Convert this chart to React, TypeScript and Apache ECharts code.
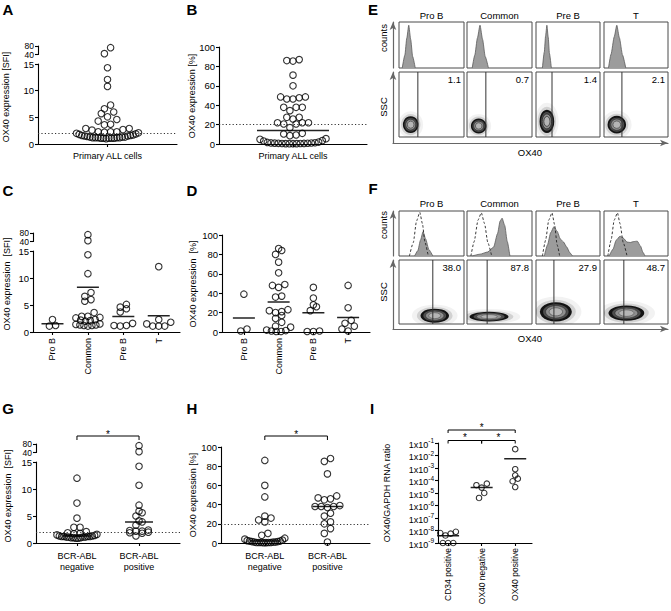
import React, { useEffect, useRef } from "react";
import * as echarts from "echarts";

// ---------------- data ----------------
const primaryCat = ["Primary ALL cells"];
const subtypeCats = ["Pro B", "Common", "Pre B", "T"];
const bcrCats = ["BCR-ABL\nnegative", "BCR-ABL\npositive"];
const rnaCats = ["CD34 positive", "OX40 negative", "OX40 positive"];
const brokenTicks = [40, 80];

// A: OX40 SFI, all primary ALL samples
const sfiAll = [72, 44, 14.3, 12.1, 10.8, 7.3, 6.6, 6.0, 5.7, 5.1, 4.6, 4.3, 3.7, 3.6, 2.9, 2.9, 2.7, 2.6, 2.3, 2.3, 2.3, 2.2, 2.1, 2.0, 1.9, 1.8, 1.7, 1.6, 1.6, 1.5, 1.5, 1.4, 1.3, 1.3, 1.3, 1.2, 1.2, 1.2, 1.2, 1.2, 1.1, 1.1, 1.1, 1.1, 1.1, 1.0];
// B: OX40 % positive, all primary ALL samples
const pctAll = [87, 86, 85.5, 71, 60, 48.5, 48.5, 47.7, 46.4, 46.4, 37.8, 37.8, 37.8, 34.4, 27.5, 27.5, 25.8, 21.9, 21.9, 21.9, 20.6, 20.6, 16.8, 11, 10.3, 9.3, 8.6, 5.5, 4.8, 3.5, 3.1, 2.0, 1.6, 1.3, 1.1, 1.0, 0.9, 0.8, 0.7, 0.6, 0.5, 0.5, 0.4, 0.4, 0.3, 0.3];

// C: SFI by subtype
const sfiProB = [2.3, 1.1, 1.2];
const sfiCommon = [72, 44, 14.3, 10.8, 7.3, 6.6, 6.0, 5.7, 3.6, 2.9, 2.7, 2.6, 2.9, 2.3, 2.2, 2.1, 2.0, 1.5, 1.4, 1.3, 1.2, 1.2, 1.3, 1.1];
const sfiPreB = [5.1, 4.6, 4.3, 3.7, 1.6, 1.2, 1.1, 1.2];
const sfiT = [12.1, 2.3, 1.8, 1.5, 1.1, 1.1, 1.1];

// D: % by subtype
const pctProB = [39, 3, 1];
const pctCommon = [86, 84, 80, 72, 61, 49, 48, 46, 37, 36, 23, 22, 21, 20, 17, 14, 10, 6, 5, 2, 1.5, 1, 0.5, 0.5];
const pctPreB = [46, 35, 28, 26, 22, 1, 0.5, 0.5];
const pctT = [48, 25, 12, 9, 6, 3, 1];

// G: SFI by BCR-ABL status
const sfiBcrNeg = [12, 7.4, 4.6, 2.9, 2.9, 2.1, 1.9, 1.8, 1.7, 1.6, 1.5, 1.4, 1.3, 1.3, 1.2, 1.2, 1.2, 1.2, 1.1, 1.1, 1.1, 1.1, 1.0, 1.0, 1.0, 0.9, 0.9];
const sfiBcrPos = [72, 44, 14.2, 10.7, 7.0, 5.9, 5.6, 5.0, 4.1, 3.9, 3.3, 2.4, 2.3, 2.2, 2.2, 2.0, 1.9, 1.8, 1.3];

// H: % by BCR-ABL status
const pctBcrNeg = [86, 60, 48, 28, 26, 24, 22, 10, 8, 5, 4, 3, 2.5, 2, 2, 1.5, 1.5, 1, 1, 1, 0.5, 0.5, 0.5, 0.5, 0.5, 0.3, 0.3];
const pctBcrPos = [88, 85, 72, 49, 47, 46, 45, 39, 38, 38, 38, 37, 31, 28, 22, 20, 15, 10, 1];

// I: OX40/GAPDH RNA ratio
const rnaCD34 = [7.9e-9, 6.3e-9, 5.6e-9, 4.0e-9, 1e-9, 1e-9, 1e-9];
const rnaOX40Neg = [5.6e-5, 4.2e-5, 2.7e-5, 1.0e-5, 4.0e-6];
const rnaOX40Pos = [3.2e-2, 8.0e-4, 2.6e-4, 1.4e-4, 8.7e-5, 3.0e-5];

// E / F: flow cytometry
const flowCols = ["Pro B", "Common", "Pre B", "T"];
const isoPct = [1.1, 0.7, 1.4, 2.1];
const ox40Pct = [38.0, 87.8, 27.9, 48.7];
const isoGate = [29, 29, 25, 28];
const ox40Gate = [52, 31, 28, 31];
const isoHist = [
  [[5, 0], [9, 28], [12, 65], [15, 93], [18, 62], [21, 25], [25, 0]],
  [[8, 0], [12, 28], [16, 65], [20, 93], [24, 62], [28, 25], [33, 0]],
  [[10, 0], [13, 35], [15, 70], [17, 93], [19, 68], [21, 32], [24, 0]],
  [[7, 0], [11, 30], [16, 68], [20, 93], [24, 66], [29, 28], [34, 0]],
];
const ox40Hist = [
  [[24, 0], [29, 12], [33, 35], [37, 54], [41, 38], [46, 14], [52, 0]],
  [[8, 0], [20, 4], [32, 9], [41, 20], [47, 50], [51, 78], [54, 84], [58, 68], [62, 32], [66, 0]],
  [[13, 0], [18, 25], [23, 52], [28, 65], [33, 55], [38, 38], [43, 31], [48, 20], [53, 7], [57, 0]],
  [[8, 0], [14, 15], [19, 35], [25, 44], [30, 40], [36, 31], [41, 30], [46, 32], [52, 33], [57, 22], [61, 8], [64, 0]],
];
const ctrlHist = [
  [[16, 0], [22, 30], [27, 78], [32, 97], [36, 72], [40, 30], [45, 0]],
  [[6, 0], [11, 32], [17, 80], [22, 96], [27, 72], [32, 30], [38, 0]],
  [[10, 0], [15, 35], [20, 80], [25, 96], [29, 70], [33, 25], [37, 0]],
  [[6, 0], [11, 35], [16, 80], [21, 96], [25, 72], [30, 30], [36, 0]],
];
// contour blobs: [centerX, centerY, radiusX, radiusY] in % of plot
const isoBlob = [[18, 19, 12, 13], [18, 17, 12, 11.5], [17, 24, 11.5, 18], [20, 19, 14.5, 13.5]];
const ox40Blob = [[55, 13, 22, 11], [34, 11.5, 30, 7.5], [31, 19, 25, 15], [35, 17, 28, 12]];

// ---------------- helpers ----------------
const FONT = '"Liberation Sans", Arial, Helvetica, sans-serif';
const INK = "#000";

function mean(a: number[]) {
  return a.reduce((s, v) => s + v, 0) / a.length;
}
function median(a: number[]) {
  const s = [...a].sort((x, y) => x - y);
  const n = s.length;
  return n % 2 ? s[(n - 1) / 2] : (s[n / 2 - 1] + s[n / 2]) / 2;
}
function swarm(vals: number[], pys: number[], rowH: number, step: number, maxW: number) {
  const n = vals.length;
  const order = vals.map((_, i) => i).sort((a, b) => vals[a] - vals[b]);
  const out = new Array(n).fill(0);
  let k = 0;
  while (k < n) {
    const y0 = pys[order[k]];
    const bin: number[] = [];
    while (k < n && y0 - pys[order[k]] < rowH) {
      bin.push(order[k]);
      k++;
    }
    const m = bin.length;
    const s = m > 1 ? Math.min(step, maxW / (m - 1)) : 0;
    const pos = Array.from({ length: m }, (_, j) => (j - (m - 1) / 2) * s).sort(
      (a, b) => Math.abs(a) - Math.abs(b) || a - b
    );
    bin.forEach((idx, j) => (out[idx] = pos[j]));
  }
  return out;
}

function buildOption() {
  const grids: any[] = [];
  const xAxes: any[] = [];
  const yAxes: any[] = [];
  const series: any[] = [];
  const gfx: any[] = [];
  const addGrid = (r: any, xa: any, ya: any) => {
    const i = grids.length;
    grids.push({ containLabel: false, ...r });
    xAxes.push({ gridIndex: i, ...xa });
    yAxes.push({ gridIndex: i, ...ya });
    return i;
  };
  const axLine = { show: true, onZero: false, lineStyle: { color: INK, width: 1.1 } };
  const axTick = { show: true, length: 3, lineStyle: { color: INK, width: 1.1 } };
  const lab = {
    color: INK, fontSize: 9.5, fontFamily: FONT,
    hideOverlap: false, showMinLabel: true, showMaxLabel: true,
  };
  const text = (x: number, y: number, t: string, size = 9.5, o: any = {}) =>
    gfx.push({
      type: "text",
      x,
      y,
      rotation: o.rot || 0,
      silent: true,
      z: 100,
      style: {
        text: t,
        fill: INK,
        fontSize: size,
        fontFamily: FONT,
        fontWeight: o.bold ? "bold" : "normal",
        align: o.align || "center",
        verticalAlign: o.va || "middle",
      },
    });
  const bracket = (x1: number, x2: number, y: number, drop = 4) =>
    gfx.push({
      type: "polyline",
      silent: true,
      z: 100,
      shape: { points: [[x1, y + drop], [x1, y], [x2, y], [x2, y + drop]] },
      style: { stroke: INK, lineWidth: 1, fill: null },
    });

  const dotPanel = (s: any) => {
    const pxX = s.width / (s.xMax - s.xMin);
    const yPx = (v: number) =>
      s.upper && v > s.yMax
        ? s.upper.top + s.upper.height * (1 - (v - s.upper.min) / (s.upper.max - s.upper.min))
        : s.top + s.height * (1 - (v - s.yMin) / (s.yMax - s.yMin));
    const ticks = s.cats.map((_: any, i: number) => i);
    const gi = addGrid(
      { left: s.left, top: s.top, width: s.width, height: s.height },
      {
        type: "value",
        min: s.xMin,
        max: s.xMax,
        axisLine: axLine,
        axisTick: { ...axTick, customValues: ticks },
        axisLabel: {
          ...lab,
          fontSize: s.catSize || 9,
          customValues: ticks,
          formatter: (v: number) => (Math.abs(v - Math.round(v)) < 1e-6 ? s.cats[Math.round(v)] ?? "" : ""),
          rotate: s.rotate || 0,
          margin: s.labelMargin ?? 6,
          lineHeight: s.lineHeight || 11,
        },
        splitLine: { show: false },
      },
      {
        type: "value",
        min: s.yMin,
        max: s.yMax,
        interval: s.yStep,
        axisLine: axLine,
        axisTick: axTick,
        axisLabel: { ...lab, margin: 4, formatter: s.yFormatter, rich: s.yRich },
        splitLine: { show: false },
      }
    );
    let gu = -1;
    if (s.upper) {
      gu = addGrid(
        { left: s.left, top: s.upper.top, width: s.width, height: s.upper.height },
        { type: "value", min: s.xMin, max: s.xMax, show: false },
        {
          type: "value",
          min: s.upper.min,
          max: s.upper.max,
          axisLine: axLine,
          axisTick: { ...axTick, customValues: brokenTicks },
          axisLabel: { show: false },
          splitLine: { show: false },
        }
      );
      // labels of the short upper axis segment, placed at that axis's own tick values
      brokenTicks.forEach((t) => text(s.left - 4, yPx(t), String(t), 8.5, { align: "right" }));
    }
    const low: number[][] = [];
    const up: number[][] = [];
    s.groups.forEach((vals: number[], g: number) => {
      const pys = vals.map(yPx);
      const offs = swarm(vals, pys, s.rowH, s.dot - 0.3, s.spread);
      vals.forEach((v, k) => {
        const pt = [g + offs[k] / pxX, v];
        (s.upper && v > s.yMax ? up : low).push(pt);
      });
      if (s.stat) {
        const m = s.stat(vals);
        const h = s.statHalfPx / pxX;
        series.push({
          type: "line",
          xAxisIndex: gi,
          yAxisIndex: gi,
          data: [[g - h, m], [g + h, m]],
          symbol: "none",
          silent: true,
          lineStyle: { color: "#222", width: 1.5 },
          z: 3,
        });
      }
    });
    const dotStyle = {
      type: "scatter",
      symbol: "circle",
      symbolSize: s.dot,
      silent: true,
      clip: false,
      itemStyle: { color: "rgba(255,255,255,0)", borderColor: INK, borderWidth: 1.1 },
      z: 4,
    };
    const lowSeries: any = { ...dotStyle, xAxisIndex: gi, yAxisIndex: gi, data: low };
    if (s.threshold !== undefined) {
      lowSeries.markLine = {
        silent: true,
        symbol: ["none", "none"],
        label: { show: false },
        lineStyle: { type: [1.2, 2.2], color: "#333", width: 1 },
        data: [{ yAxis: s.threshold }],
      };
    }
    series.push(lowSeries);
    if (gu >= 0) series.push({ ...dotStyle, xAxisIndex: gu, yAxisIndex: gu, data: up });
    return { x: (c: number) => s.left + (c - s.xMin) * pxX, y: yPx };
  };

  // ---- A ----
  dotPanel({
    left: 38, width: 139, top: 64, height: 80, yMin: 0, yMax: 15, yStep: 5,
    upper: { top: 46, height: 8.5, min: 40, max: 80 },
    xMin: -1, xMax: 1, cats: primaryCat, groups: [sfiAll],
    threshold: 2, spread: 62, rowH: 6, dot: 6.5, labelMargin: 6,
  });
  // ---- B ----
  dotPanel({
    left: 219, width: 148, top: 47, height: 97, yMin: 0, yMax: 100, yStep: 20,
    xMin: -1, xMax: 1, cats: primaryCat, groups: [pctAll],
    stat: median, statHalfPx: 36, threshold: 20, spread: 66, rowH: 6, dot: 6.5, labelMargin: 6,
  });
  // ---- C ----
  dotPanel({
    left: 33, width: 147, top: 251, height: 81, yMin: 0, yMax: 15, yStep: 5,
    upper: { top: 233, height: 8.5, min: 40, max: 80 },
    xMin: -0.55, xMax: 3.6, cats: subtypeCats, groups: [sfiProB, sfiCommon, sfiPreB, sfiT],
    stat: mean, statHalfPx: 11, rotate: 90, labelMargin: 6, spread: 24, rowH: 4, dot: 6.5,
  });
  // ---- D ----
  dotPanel({
    left: 222, width: 148, top: 235, height: 97, yMin: 0, yMax: 100, yStep: 20,
    xMin: -0.63, xMax: 3.63, cats: subtypeCats, groups: [pctProB, pctCommon, pctPreB, pctT],
    stat: mean, statHalfPx: 11, rotate: 90, labelMargin: 6, spread: 24, rowH: 5, dot: 6.5,
  });
  // ---- G ----
  const pG = dotPanel({
    left: 36, width: 144, top: 462, height: 81, yMin: 0, yMax: 15, yStep: 5,
    upper: { top: 444, height: 8.5, min: 40, max: 80 },
    xMin: -0.66, xMax: 1.66, cats: bcrCats, groups: [sfiBcrNeg, sfiBcrPos],
    stat: median, statHalfPx: 14, threshold: 2, labelMargin: 7, lineHeight: 11, spread: 40, rowH: 4, dot: 6.5,
  });
  // ---- H ----
  const pH = dotPanel({
    left: 221, width: 149, top: 447, height: 96, yMin: 0, yMax: 100, yStep: 20,
    xMin: -0.7, xMax: 1.68, cats: bcrCats, groups: [pctBcrNeg, pctBcrPos],
    stat: median, statHalfPx: 15, threshold: 20, labelMargin: 7, lineHeight: 11, spread: 40, rowH: 5, dot: 6.5,
  });
  // ---- I ----
  const pI = dotPanel({
    left: 438, width: 94, top: 443, height: 100, yMin: -9, yMax: -1, yStep: 1,
    xMin: -0.3, xMax: 2.5, cats: rnaCats,
    groups: [rnaCD34, rnaOX40Neg, rnaOX40Pos].map((g) => g.map((v) => Math.log10(v))),
    stat: (g: number[]) => Math.log10(mean(g.map((v) => Math.pow(10, v)))),
    statHalfPx: 11, rotate: 90, labelMargin: 5, catSize: 8.5, spread: 18, rowH: 5.5, dot: 5.5,
    yFormatter: (v: number) => `{b|1x10}{s|${Math.round(v)}}`,
    yRich: {
      b: { fontSize: 9, fontFamily: FONT, color: INK, verticalAlign: "bottom", padding: [3, 0, 0, 0] },
      s: { fontSize: 6.5, fontFamily: FONT, color: INK, verticalAlign: "top" },
    },
  });

  // significance brackets
  bracket(pG.x(0), pG.x(1), 436);
  text((pG.x(0) + pG.x(1)) / 2, 434.5, "*", 10);
  bracket(pH.x(0), pH.x(1), 436);
  text((pH.x(0) + pH.x(1)) / 2, 434.5, "*", 10);
  bracket(pI.x(0), pI.x(2), 430, 3);
  text(pI.x(1), 427, "*", 10);
  bracket(pI.x(0), pI.x(1), 440.5, 3);
  bracket(pI.x(1), pI.x(2), 440.5, 3);
  text((pI.x(0) + pI.x(1)) / 2, 437.5, "*", 10);
  text((pI.x(1) + pI.x(2)) / 2, 437.5, "*", 10);

  // ---- flow panels E / F ----
  const flowLefts = [399, 467, 536, 604];
  const flowWidths = [65, 65, 64, 64];
  const hidden = { type: "value", min: 0, max: 100, show: false };
  const box = { show: true, borderColor: "#4a4a4a", borderWidth: 1, backgroundColor: "#fff" };
  const arrowLine = {
    show: true,
    onZero: false,
    symbol: ["none", "arrow"],
    symbolSize: [5, 8],
    lineStyle: { color: "#666", width: 1.2 },
  };
  const arrowAxis = {
    type: "value", min: 0, max: 1,
    axisLine: arrowLine, axisTick: { show: false }, axisLabel: { show: false }, splitLine: { show: false },
  };
  const blobRender = (_p: any, api: any) => {
    const c = api.coord([api.value(0), api.value(1)]);
    const sz = api.size([api.value(2), api.value(3)]);
    const rx = sz[0];
    const ry = sz[1];
    const layer = (k: number, fill: string, stroke?: string, lw?: number) => ({
      type: "circle",
      x: c[0],
      y: c[1],
      scaleY: ry / rx,
      shape: { cx: 0, cy: 0, r: rx * k },
      style: { fill, stroke: stroke || null, lineWidth: lw || 0 },
    });
    return {
      type: "group",
      children: [
        layer(1.6, "rgba(0,0,0,0.05)"),
        layer(1.25, "rgba(0,0,0,0.13)"),
        layer(1, "#141414"),
        layer(0.8, "#4d4d4d"),
        layer(0.64, "#8f8f8f", "#222", 0.6),
        layer(0.42, "#b5b5b5", "#333", 0.6),
      ],
    };
  };
  const flowPanel = (L: any, hf: number[][][], hc: number[][][] | null, blobs: number[][], gates: number[], pct: number[]) => {
    flowLefts.forEach((lx, c) => {
      const w = flowWidths[c];
      const hg = addGrid({ left: lx, top: L.histTop, width: w, height: L.histH, ...box }, hidden, hidden);
      series.push({
        type: "line", xAxisIndex: hg, yAxisIndex: hg, data: hf[c], smooth: 0.2, smoothMonotone: "x",
        symbol: "none", silent: true, lineStyle: { color: "#5a5a5a", width: 0.8 },
        areaStyle: { color: "#9c9c9c", opacity: 1 }, z: 2,
      });
      if (hc)
        series.push({
          type: "line", xAxisIndex: hg, yAxisIndex: hg, data: hc[c], smooth: 0.2, smoothMonotone: "x",
          symbol: "none", silent: true, lineStyle: { color: "#222", width: 0.9, type: [2.5, 2] }, z: 3,
        });
      const sg = addGrid({ left: lx, top: L.scatTop, width: w, height: L.scatH, ...box }, hidden, hidden);
      series.push({
        type: "custom", xAxisIndex: sg, yAxisIndex: sg, data: [blobs[c]], renderItem: blobRender,
        clip: true, silent: true, z: 2,
      });
      series.push({
        type: "line", xAxisIndex: sg, yAxisIndex: sg, data: [[gates[c], 0], [gates[c], 100]],
        symbol: "none", silent: true, lineStyle: { color: "#333", width: 1 }, z: 3,
      });
      text(lx + w / 2, L.titleY, flowCols[c], 9.5);
      text(lx + w - 3, L.scatTop + 7, pct[c].toFixed(1), 9.5, { align: "right" });
    });
    addGrid({ left: 393, top: L.scatTop, width: 275, height: L.axisY - L.scatTop }, arrowAxis, arrowAxis);
    addGrid(
      { left: 393, top: L.histTop, width: 20, height: L.histH },
      { type: "value", min: 0, max: 1, show: false },
      arrowAxis
    );
    text(530, L.axisY + 9, "OX40", 9.5);
    text(383, L.countsY, "counts", 9.5, { rot: Math.PI / 2 });
    text(383, L.sscY, "SSC", 9.5, { rot: Math.PI / 2 });
  };
  flowPanel(
    { histTop: 22, histH: 46, scatTop: 72, scatH: 65, axisY: 143, titleY: 15, countsY: 38, sscY: 107 },
    isoHist, null, isoBlob, isoGate, isoPct
  );
  flowPanel(
    { histTop: 211, histH: 45, scatTop: 260, scatH: 64, axisY: 329, titleY: 203, countsY: 225, sscY: 292 },
    ox40Hist, ctrlHist, ox40Blob, ox40Gate, ox40Pct
  );

  // axis titles
  const rot = { rot: Math.PI / 2 };
  text(6, 97, "OX40 expression [SFI]", 9, rot);
  text(192, 96, "OX40 expression [%]", 9, rot);
  text(7, 284, "OX40 expression  [SFI]", 9, rot);
  text(193, 284, "OX40 expression  [%]", 9, rot);
  text(8, 496, "OX40 expression  [SFI]", 9, rot);
  text(193, 495, "OX40 expression [%]", 9, rot);
  text(387, 493, "OX40/GAPDH RNA ratio", 9, rot);

  // panel letters
  const letters: [string, number, number][] = [
    ["A", 8, 9], ["B", 192, 9], ["E", 373, 9],
    ["C", 8, 190], ["D", 192, 190], ["F", 373, 188],
    ["G", 8, 408], ["H", 192, 408], ["I", 372, 408],
  ];
  letters.forEach(([t, x, y]) => text(x, y, t, 15, { bold: true }));

  return {
    animation: false,
    backgroundColor: "#fff",
    textStyle: { fontFamily: FONT },
    grid: grids,
    xAxis: xAxes,
    yAxis: yAxes,
    series,
    graphic: { elements: gfx },
  };
}

export default function App() {
  const ref = useRef<HTMLDivElement>(null);
  useEffect(() => {
    document.body.style.margin = "0";
    const chart = echarts.init(ref.current!, undefined, { renderer: "svg" });
    chart.setOption(buildOption() as any);
    return () => chart.dispose();
  }, []);
  return <div ref={ref} style={{ width: 671, height: 611, background: "#fff" }} />;
}
